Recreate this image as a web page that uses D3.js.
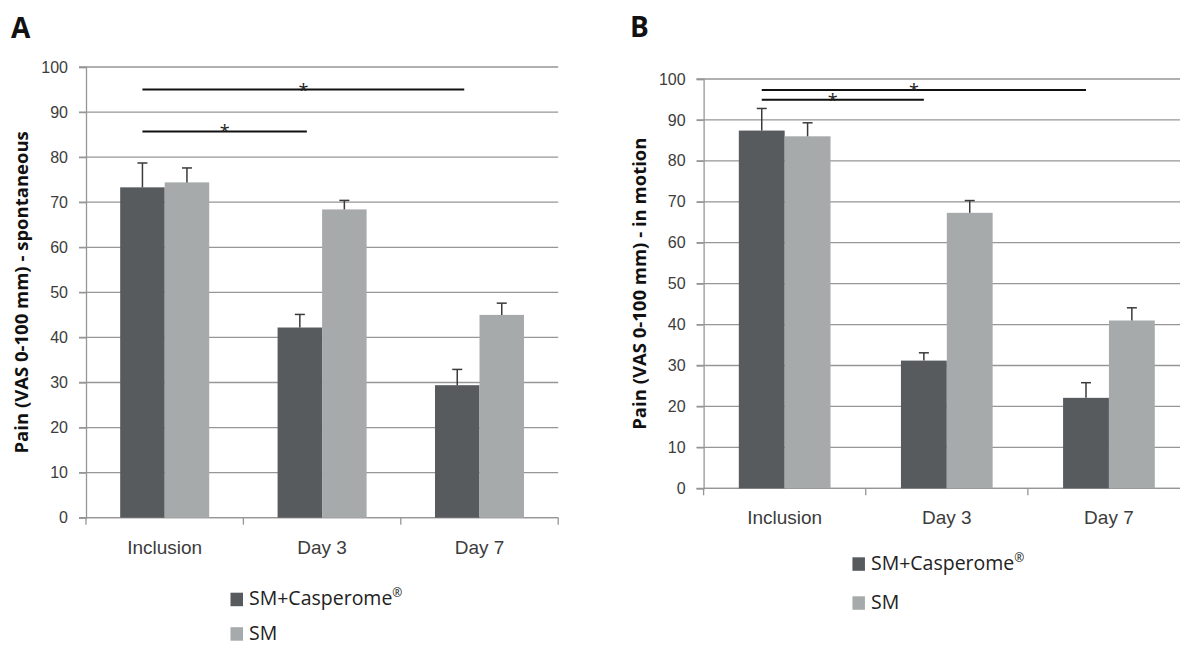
<!DOCTYPE html>
<html>
<head>
<meta charset="utf-8">
<script src="https://cdn.jsdelivr.net/npm/d3@7.9.0/dist/d3.min.js"></script>
<style>
  body { margin: 0; background: #fff; }
  svg { display: block; font-family: "Open Sans", sans-serif; }
</style>
</head>
<body>
<svg id="chart" width="1180" height="645"></svg>
<script>
// categories and series
const categories = ["Inclusion", "Day 3", "Day 7"];
const seriesNames = ["SM+Casperome", "SM"];
const yTicks = [0, 10, 20, 30, 40, 50, 60, 70, 80, 90, 100];

// panel A - spontaneous pain (mean, upper SE)
const spontCasperome = [73.3, 42.2, 29.4];
const spontCasperomeErr = [5.4, 2.9, 3.5];
const spontSM = [74.4, 68.4, 45.0];
const spontSMErr = [3.2, 2.0, 2.6];
const spontSig = [
  { from: "Inclusion", to: "Day 7", y: 95.0 },
  { from: "Inclusion", to: "Day 3", y: 85.7 }
];

// panel B - pain in motion
const motionCasperome = [87.4, 31.2, 22.1];
const motionCasperomeErr = [5.4, 1.9, 3.7];
const motionSM = [86.0, 67.3, 41.0];
const motionSMErr = [3.3, 3.0, 3.1];
const motionSig = [
  { from: "Inclusion", to: "Day 7", y: 97.3 },
  { from: "Inclusion", to: "Day 3", y: 94.9 }
];

const colors = ["#575b5e", "#a7aaab"];
const gridColor = "#969696";
const textColor = "#3c3c3c";

const svg = d3.select("#chart");

function drawPanel(p) {
  const g = svg.append("g");
  const x = d3.scaleBand().domain(categories).range([p.left, p.right]).padding(0);
  const xs = d3.scaleBand().domain(seriesNames).range([0, x.bandwidth()])
    .paddingInner(0).paddingOuter(0.768);
  const y = d3.scaleLinear().domain([0, 100]).range([p.bottom, p.top]);

  // grid lines
  g.append("g")
    .selectAll("line")
    .data(yTicks)
    .join("line")
    .attr("x1", p.left - 7)
    .attr("x2", p.right)
    .attr("y1", d => y(d))
    .attr("y2", d => y(d))
    .attr("stroke", gridColor)
    .attr("stroke-width", 1.3);

  // y axis
  const yAxis = g.append("g")
    .attr("transform", `translate(${p.left},0)`)
    .call(d3.axisLeft(y).tickValues(yTicks).tickSize(7).tickPadding(11));
  yAxis.select(".domain").attr("stroke", gridColor).attr("stroke-width", 1.3);
  yAxis.selectAll(".tick line").attr("stroke", gridColor).attr("stroke-width", 1.3);
  yAxis.selectAll(".tick text")
    .attr("fill", textColor)
    .style("font-size", "16px");

  // x axis with boundary ticks
  const xAxis = g.append("g")
    .attr("transform", `translate(0,${p.bottom})`)
    .call(d3.axisBottom(x).tickSize(0).tickPadding(0));
  xAxis.select(".domain").remove();
  xAxis.selectAll(".tick text").remove();
  const bounds = categories.map(c => x(c)).concat([p.right]);
  xAxis.selectAll(".bound")
    .data(bounds)
    .join("line")
    .attr("x1", d => d).attr("x2", d => d)
    .attr("y1", 0).attr("y2", 7)
    .attr("stroke", gridColor).attr("stroke-width", 1.3);
  xAxis.append("line")
    .attr("x1", p.left).attr("x2", p.right)
    .attr("stroke", gridColor).attr("stroke-width", 1.3);
  xAxis.selectAll(".cat")
    .data(categories)
    .join("text")
    .attr("x", d => x(d) + x.bandwidth() / 2)
    .attr("y", 36)
    .attr("text-anchor", "middle")
    .attr("fill", textColor)
    .style("font-size", "19px")
    .text(d => d);

  // bars
  const rows = [];
  p.series.forEach((s, si) => {
    categories.forEach((c, ci) => {
      rows.push({ cat: c, name: seriesNames[si], value: s.values[ci], err: s.errs[ci], color: colors[si] });
    });
  });

  g.append("g")
    .selectAll("rect")
    .data(rows)
    .join("rect")
    .attr("x", d => x(d.cat) + xs(d.name))
    .attr("y", d => y(d.value))
    .attr("width", xs.bandwidth())
    .attr("height", d => y(0) - y(d.value))
    .attr("fill", d => d.color);

  // upper error bars
  const eb = g.append("g").attr("stroke", "#3a3a3a").attr("stroke-width", 1.5);
  eb.selectAll(".stem")
    .data(rows)
    .join("line")
    .attr("x1", d => x(d.cat) + xs(d.name) + xs.bandwidth() / 2)
    .attr("x2", d => x(d.cat) + xs(d.name) + xs.bandwidth() / 2)
    .attr("y1", d => y(d.value))
    .attr("y2", d => y(d.value + d.err));
  eb.selectAll(".cap")
    .data(rows)
    .join("line")
    .attr("x1", d => x(d.cat) + xs(d.name) + xs.bandwidth() / 2 - 5)
    .attr("x2", d => x(d.cat) + xs(d.name) + xs.bandwidth() / 2 + 5)
    .attr("y1", d => y(d.value + d.err))
    .attr("y2", d => y(d.value + d.err));

  // significance lines
  const darkCenter = c => x(c) + xs(seriesNames[0]) + xs.bandwidth() / 2;
  const sig = g.append("g");
  sig.selectAll("line")
    .data(p.sig)
    .join("line")
    .attr("x1", d => darkCenter(d.from))
    .attr("x2", d => darkCenter(d.to) + p.sigExtra)
    .attr("y1", d => y(d.y))
    .attr("y2", d => y(d.y))
    .attr("stroke", "#111")
    .attr("stroke-width", 2);
  sig.selectAll("text")
    .data(p.sig)
    .join("text")
    .attr("x", d => (darkCenter(d.from) + darkCenter(d.to) + p.sigExtra) / 2 + p.starShift)
    .attr("y", d => y(d.y) + 7)
    .attr("text-anchor", "middle")
    .attr("fill", "#222")
    .style("font-size", "18px")
    .text("*");

  // y title
  g.append("text")
    .attr("transform", `translate(${p.left - 64},${(p.top + p.bottom) / 2}) rotate(-90)`)
    .attr("text-anchor", "middle")
    .attr("dy", "0.35em")
    .attr("fill", "#111")
    .style("font-size", "18.5px")
    .style("font-weight", "bold")
    .text(p.yTitle);

  // panel letter
  g.append("text")
    .attr("x", p.letterX)
    .attr("y", p.letterY)
    .attr("fill", "#111")
    .style("font-size", "28px")
    .style("font-weight", "bold")
    .text(p.letter);

  // legend
  const lx = p.left + 0.306 * (p.right - p.left);
  const leg = g.append("g")
    .selectAll("g")
    .data(seriesNames)
    .join("g")
    .attr("transform", (d, i) => `translate(${lx},${p.legendTop + i * p.legendGap})`);
  leg.append("rect")
    .attr("width", 12.5)
    .attr("height", 13.5)
    .attr("fill", (d, i) => colors[i]);
  const lt = leg.append("text")
    .attr("x", 18.5)
    .attr("y", 12.5)
    .attr("fill", "#222")
    .style("font-size", "19.5px");
  lt.append("tspan").text(d => d);
  lt.filter((d, i) => i === 0)
    .append("tspan")
    .attr("dy", -8)
    .style("font-size", "12px")
    .text("®");
}

drawPanel({
  left: 86, right: 558.2, top: 67, bottom: 517.7,
  series: [
    { values: spontCasperome, errs: spontCasperomeErr },
    { values: spontSM, errs: spontSMErr }
  ],
  sig: spontSig, sigExtra: 7, starShift: 0,
  yTitle: "Pain (VAS 0-100 mm) - spontaneous",
  letter: "A", letterX: 11, letterY: 38,
  legendTop: 592.7, legendGap: 34.5
});

drawPanel({
  left: 703.6, right: 1190, top: 79, bottom: 488.3,
  series: [
    { values: motionCasperome, errs: motionCasperomeErr },
    { values: motionSM, errs: motionSMErr }
  ],
  sig: motionSig, sigExtra: 0, starShift: -10,
  yTitle: "Pain (VAS 0-100 mm) - in motion",
  letter: "B", letterX: 630, letterY: 37,
  legendTop: 557.3, legendGap: 39
});
</script>
</body>
</html>
